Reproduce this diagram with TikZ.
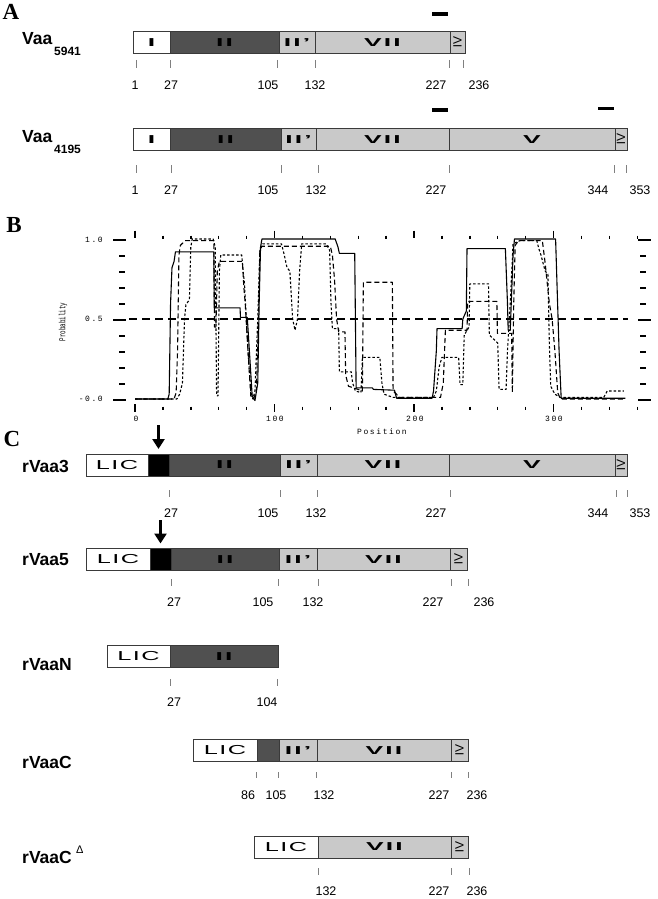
\documentclass[tikz,border=0pt]{standalone}
\usepackage{fontspec}
\setmainfont{Liberation Sans}
\newfontfamily\romfont{Liberation Sans}[LetterSpace=8]
\newfontfamily\licfont{Liberation Sans}[LetterSpace=6]
\newfontfamily\panelfont{Liberation Serif}
\newfontfamily\plotfont{Liberation Mono}[LetterSpace=20]
\newfontfamily\probfont{Liberation Mono}
\usetikzlibrary{arrows.meta}
\definecolor{darkseg}{HTML}{505050}
\definecolor{lightseg}{HTML}{C9C9C9}
\definecolor{segline}{HTML}{3A3A3A}
\newcommand{\romlab}[1]{\scalebox{2.3}[1]{\romfont\bfseries\fontsize{11.5}{12}\selectfont #1}}
\newcommand{\liclab}{\scalebox{1.95}[1]{\licfont\fontsize{13}{14}\selectfont LIC}}
\newcommand{\vilab}{\scalebox{-1}[1]{\rotatebox{-90}{\fontsize{12}{12}\selectfont VI}}}
\begin{document}
\begin{tikzpicture}[x=1pt,y=-1pt,
  seg/.style={draw=segline, line width=0.6pt, inner sep=0pt, outer sep=0pt, minimum height=22pt, anchor=west},
  wseg/.style={seg, fill=white},
  dseg/.style={seg, fill=darkseg},
  lseg/.style={seg, fill=lightseg},
  bseg/.style={seg, fill=black},
  tickln/.style={draw=gray, line width=0.5pt},
  numlab/.style={font=\fontsize{12.5}{14}\selectfont, inner sep=0pt},
  protname/.style={font=\fontsize{17.5}{19}\selectfont\bfseries, inner sep=0pt, anchor=base west},
  subscr/.style={font=\fontsize{12}{14}\selectfont\bfseries, inner sep=0pt, anchor=base west},
  panellab/.style={font=\panelfont\bfseries\fontsize{23}{25}\selectfont, inner sep=0pt},
  plotlab/.style={font=\plotfont\fontsize{8}{9}\selectfont, inner sep=0pt},
  axtick/.style={line width=1.4pt},
  curve/.style={line width=1.1pt, line join=round},
  ldash/.style={curve, dash pattern=on 5pt off 3pt},
  sdash/.style={curve, dash pattern=on 2.5pt off 2pt},
  downarrow/.style={line width=3.5pt, -{Triangle[width=12pt,length=10pt]}}
]
\useasboundingbox (0,0) rectangle (657,899);

% ---------------- Panel A ----------------
\node[panellab] (pA) at (11,12) {A};

% Vaa 5941
\node[protname] (n1) at (22,45) {Vaa};
\node[subscr] (s1) at (54,56) {5941};
\node[wseg, minimum width=37pt] (a1i) at (133,42.5) {\romlab{I}};
\node[dseg, minimum width=109pt] (a1ii) at (170,42.5) {\romlab{II}};
\node[lseg, minimum width=36pt] (a1iip) at (279,42.5) {\romlab{II’}};
\node[lseg, minimum width=135pt] (a1vii) at (315,42.5) {\romlab{VII}};
\node[lseg, minimum width=15pt] (a1vi) at (450,42.5) {\vilab};
\fill (432,12) rectangle (448,16);
\foreach \x in {136,170,277,315,449,463} \draw[tickln] (\x,60) -- (\x,68);
\node[numlab] (l1a) at (135,85) {1};
\node[numlab] (l1b) at (171,85) {27};
\node[numlab] (l1c) at (268,85) {105};
\node[numlab] (l1d) at (315,85) {132};
\node[numlab] (l1e) at (436,85) {227};
\node[numlab] (l1f) at (479,85) {236};

% Vaa 4195
\node[protname] (n2) at (22,142) {Vaa};
\node[subscr] (s2) at (54,153) {4195};
\node[wseg, minimum width=37pt] (a2i) at (133,139.5) {\romlab{I}};
\node[dseg, minimum width=111pt] (a2ii) at (170,139.5) {\romlab{II}};
\node[lseg, minimum width=35pt] (a2iip) at (281,139.5) {\romlab{II’}};
\node[lseg, minimum width=133pt] (a2vii) at (316,139.5) {\romlab{VII}};
\node[lseg, minimum width=166pt] (a2v) at (449,139.5) {\romlab{V}};
\node[lseg, minimum width=12pt] (a2vi) at (615,139.5) {\vilab};
\fill (432,108) rectangle (448,111.5);
\fill (598,106.5) rectangle (614,110);
\foreach \x in {136,171,281,318,449,614,626} \draw[tickln] (\x,165) -- (\x,173);
\node[numlab] (l2a) at (135,190) {1};
\node[numlab] (l2b) at (171,190) {27};
\node[numlab] (l2c) at (268,190) {105};
\node[numlab] (l2d) at (316,190) {132};
\node[numlab] (l2e) at (436,190) {227};
\node[numlab] (l2f) at (598,190) {344};
\node[numlab] (l2g) at (640,190) {353};

% ---------------- Panel B ----------------
\node[panellab] (pB) at (14,225) {B};

% left and right axis ticks
\foreach \k in {0,...,10} {
  \pgfmathsetmacro{\yy}{240+16*\k}
  \ifnum\k=0 \draw[axtick] (113,\yy) -- (126,\yy);
  \else\ifnum\k=5 \draw[axtick] (113,\yy) -- (126,\yy);
  \else\ifnum\k=10 \draw[axtick] (113,\yy) -- (126,\yy);
  \else \draw[axtick] (119,\yy) -- (125,\yy);
  \fi\fi\fi
  \ifnum\k=0 \draw[axtick] (638,\yy) -- (651,\yy);
  \else\ifnum\k=5 \draw[axtick] (638,\yy) -- (651,\yy);
  \else\ifnum\k=10 \draw[axtick] (638,\yy) -- (651,\yy);
  \else \draw[axtick] (640,\yy) -- (646,\yy);
  \fi\fi\fi
}
% top and bottom axis ticks
\foreach \i in {0,...,18} {
  \pgfmathsetmacro{\xx}{135+27.9*\i}
  \pgfmathtruncatemacro{\md}{mod(\i,5)}
  \ifnum\md=0
    \draw[axtick] (\xx,230.5) -- (\xx,238);
    \draw[axtick] (\xx,404) -- (\xx,412);
  \else
    \draw[axtick] (\xx,235.5) -- (\xx,238.5);
    \draw[axtick] (\xx,406.5) -- (\xx,410);
  \fi
}
\node[plotlab, anchor=east] (y10) at (103,240) {1.0};
\node[plotlab, anchor=east] (y05) at (103,319) {0.5};
\node[plotlab, anchor=east] (y00) at (103,399) {-0.0};
\node[plotlab] (x0) at (136,419) {0};
\node[plotlab] (x100) at (275,419) {100};
\node[plotlab] (x200) at (415,419) {200};
\node[plotlab] (x300) at (554,419) {300};
\node[plotlab] (xlab) at (382,432) {Position};
\node[inner sep=0pt, rotate=90] (ylab) at (63,322) {\scalebox{0.65}[1]{\probfont\fontsize{9}{9}\selectfont Probability}};
\draw[line width=1.1pt, dash pattern=on 8pt off 5pt] (129,319) -- (628,319);

\begin{scope}[shift={(135,399)}, x=1.395pt, y=160pt]
\draw[curve] plot coordinates {(0,0) (23.5,0) (24.5,0.03) (25.5,0.6) (26.5,0.82) (28,0.86) (29,0.92) (56.5,0.92) (56.8,0.57) (75.3,0.57) (75.6,0.51) (80.5,0.51) (82,0.3) (84,0.02) (86,-0.01) (88,0.1) (89,0.6) (90,0.95) (91,1.0) (143.5,1.0) (145.5,0.95) (146.5,0.91) (157.5,0.91) (158,0.5) (158.5,0.07) (170,0.07) (171,0.06) (186,0.055) (187.5,0.005) (213,0.005) (214,0.05) (216,0.3) (216.5,0.44) (234.5,0.44) (235,0.5) (237.5,0.55) (238,0.94) (265.5,0.94) (267,0.6) (267.5,0.43) (269,0.43) (271,0.9) (272,1.0) (301.5,1.0) (304,0.3) (305.5,0.005) (351.5,0.005)};
\draw[ldash] plot coordinates {(0,0) (28,0) (29.5,0.04) (30.5,0.3) (31.5,0.9) (32.5,0.96) (36,0.99) (56.5,0.99) (57,0.45) (58,0.45) (59,0.8) (60.5,0.86) (77,0.86) (78,0.7) (79,0.6) (81,0.3) (83,0.02) (85,0) (87,0.05) (88.5,0.5) (89.5,0.93) (91,0.955) (140,0.955) (141.5,0.9) (143,0.75) (144.5,0.5) (146,0.42) (150.5,0.42) (151,0.15) (153,0.08) (160,0.06) (163,0.05) (163.7,0.73) (184.5,0.73) (185,0.05) (187.5,0.03) (189,0.01) (219,0.01) (221,0.1) (222.5,0.43) (238,0.43) (238.5,0.61) (259.4,0.61) (259.8,0.41) (270,0.41) (270.5,0.04) (271.5,0.6) (272.5,0.96) (275,0.99) (292,0.99) (294,0.85) (297,0.6) (299,0.5) (301,0.3) (303,0.04) (305,0.0) (351.5,0.0)};
\draw[sdash] plot coordinates {(0,0) (30,0) (32,0.03) (34,0.1) (35.5,0.5) (36.5,0.59) (39,0.62) (40,0.95) (41,1.0) (56,1.0) (57.5,0.95) (58,0.5) (58.5,0.02) (59.5,0.02) (60.5,0.8) (61.5,0.9) (76.5,0.9) (77.5,0.8) (78.5,0.72) (79.5,0.55) (81,0.3) (83,0.05) (84.5,0) (86,0.05) (88,0.5) (89.5,0.93) (91.5,0.97) (105,0.97) (107,0.9) (109,0.82) (111,0.8) (113,0.5) (114.7,0.43) (116.5,0.5) (118,0.8) (119.5,0.97) (137,0.97) (139.5,0.93) (140.5,0.6) (141.5,0.44) (146,0.44) (146.5,0.17) (155,0.17) (156,0.1) (158,0.05) (162,0.04) (163,0.26) (175.5,0.26) (177,0.1) (178.5,0.03) (185,0.01) (214,0.01) (216,0.05) (218,0.2) (220,0.26) (232,0.26) (233,0.09) (235,0.09) (236,0.4) (239.5,0.45) (240,0.72) (253.4,0.72) (254,0.4) (260,0.35) (261,0.06) (266,0.06) (267,0.3) (269,0.6) (271,0.97) (276,0.99) (288,0.99) (289.5,0.94) (291,0.9) (294,0.8) (296,0.78) (297,0.35) (298,0.08) (301,0.03) (305,0.01) (336,0.01) (338.5,0.05) (350.5,0.05)};
\end{scope}

% ---------------- Panel C ----------------
\node[panellab] (pC) at (12,439) {C};

% rVaa3
\node[protname] (n3) at (22,472) {rVaa3};
\node[wseg, minimum width=62pt] (c3lic) at (86,465) {\liclab};
\node[bseg, minimum width=21pt] (c3blk) at (148,465) {};
\node[dseg, minimum width=111pt] (c3ii) at (169,465) {\romlab{II}};
\node[lseg, minimum width=37pt] (c3iip) at (280,465) {\romlab{II’}};
\node[lseg, minimum width=132pt] (c3vii) at (317,465) {\romlab{VII}};
\node[lseg, minimum width=166pt] (c3v) at (449,465) {\romlab{V}};
\node[lseg, minimum width=12pt] (c3vi) at (615,465) {\vilab};
\coordinate (ar3) at (158.5,425);
\draw[downarrow, shorten >=5pt] (ar3) -- (c3blk.north);
\foreach \x in {169,280,317,450,616,627} \draw[tickln] (\x,490) -- (\x,497);
\node[numlab] (l3b) at (171,513) {27};
\node[numlab] (l3c) at (268,513) {105};
\node[numlab] (l3d) at (316,513) {132};
\node[numlab] (l3e) at (436,513) {227};
\node[numlab] (l3f) at (598,513) {344};
\node[numlab] (l3g) at (640,513) {353};

% rVaa5
\node[protname] (n5) at (22,565) {rVaa5};
\node[wseg, minimum width=64pt] (c5lic) at (86,559.5) {\liclab};
\node[bseg, minimum width=21pt] (c5blk) at (150,559.5) {};
\node[dseg, minimum width=108pt] (c5ii) at (171,559.5) {\romlab{II}};
\node[lseg, minimum width=38pt] (c5iip) at (279,559.5) {\romlab{II’}};
\node[lseg, minimum width=133pt] (c5vii) at (317,559.5) {\romlab{VII}};
\node[lseg, minimum width=17pt] (c5vi) at (450,559.5) {\vilab};
\coordinate (ar5) at (160.5,520);
\draw[downarrow, shorten >=5pt] (ar5) -- (c5blk.north);
\foreach \x in {171,278,318,451,468} \draw[tickln] (\x,579) -- (\x,586);
\node[numlab] (l5b) at (174,602) {27};
\node[numlab] (l5c) at (263,602) {105};
\node[numlab] (l5d) at (313,602) {132};
\node[numlab] (l5e) at (433,602) {227};
\node[numlab] (l5f) at (484,602) {236};

% rVaaN
\node[protname] (nN) at (22,670) {rVaaN};
\node[wseg, minimum width=63pt] (cNlic) at (107,656.5) {\liclab};
\node[dseg, minimum width=108pt] (cNii) at (170,656.5) {\romlab{II}};
\foreach \x in {170,277} \draw[tickln] (\x,679) -- (\x,686);
\node[numlab] (lNb) at (174,702) {27};
\node[numlab] (lNc) at (267,702) {104};

% rVaaC
\node[protname] (nC) at (22,768) {rVaaC};
\node[wseg, minimum width=64pt] (cClic) at (193,750.5) {\liclab};
\node[dseg, minimum width=22pt] (cCii) at (257,750.5) {};
\node[lseg, minimum width=38pt] (cCiip) at (279,750.5) {\romlab{II’}};
\node[lseg, minimum width=134pt] (cCvii) at (317,750.5) {\romlab{VII}};
\node[lseg, minimum width=17pt] (cCvi) at (451,750.5) {\vilab};
\foreach \x in {256,278,316,451,468} \draw[tickln] (\x,772) -- (\x,778);
\node[numlab] (lCa) at (248,795) {86};
\node[numlab] (lCb) at (276,795) {105};
\node[numlab] (lCc) at (324,795) {132};
\node[numlab] (lCd) at (439,795) {227};
\node[numlab] (lCe) at (477,795) {236};

% rVaaC Delta
\node[protname] (nD) at (22,863) {rVaaC};
\node[inner sep=0pt, anchor=base west, font=\fontsize{11}{12}\selectfont] (nDd) at (76,853) {Δ};
\node[wseg, minimum width=64pt] (cDlic) at (254,847) {\liclab};
\node[lseg, minimum width=133pt] (cDvii) at (318,847) {\romlab{VII}};
\node[lseg, minimum width=17pt] (cDvi) at (451,847) {\vilab};
\foreach \x in {318,451,469} \draw[tickln] (\x,868) -- (\x,875);
\node[numlab] (lDa) at (326,891) {132};
\node[numlab] (lDb) at (439,891) {227};
\node[numlab] (lDc) at (477,891) {236};
\end{tikzpicture}
\end{document}
